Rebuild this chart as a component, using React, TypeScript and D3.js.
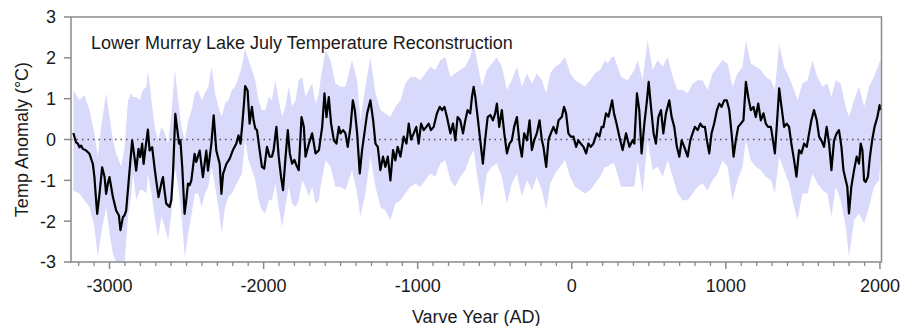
import React from "react";
import * as d3 from "d3";

const title = "Lower Murray Lake July Temperature Reconstruction";
const xTitle = "Varve Year (AD)";
const yTitle = "Temp Anomaly (°C)";

const xMajorTicks = [-3000, -2000, -1000, 0, 1000, 2000];
const yTicks = [-3, -2, -1, 0, 1, 2, 3];

const lineYears = [
  -3235, -3217, -3206, -3195, -3184, -3173, -3152, -3130, -3108, -3098, -3087, -3080, -3065, -3048, -3032, -3022, -3011, -3000,
  -2989, -2978, -2957, -2939, -2929, -2913, -2903, -2892, -2870, -2853, -2838, -2827, -2812, -2801, -2788, -2779, -2766, -2751,
  -2740, -2723, -2708, -2697, -2682, -2664, -2653, -2643, -2632, -2610, -2599, -2588, -2573, -2562, -2549, -2540, -2528, -2513,
  -2502, -2491, -2480, -2469, -2448, -2437, -2415, -2394, -2372, -2361, -2339, -2324, -2307, -2285, -2274, -2263, -2242, -2220,
  -2198, -2177, -2163, -2150, -2138, -2125, -2120, -2104, -2091, -2076, -2065, -2054, -2043, -2026, -2011, -1996, -1978, -1961,
  -1946, -1935, -1917, -1902, -1887, -1874, -1859, -1843, -1830, -1815, -1800, -1783, -1772, -1754, -1739, -1728, -1706, -1685,
  -1663, -1641, -1620, -1605, -1592, -1577, -1562, -1544, -1527, -1512, -1501, -1484, -1469, -1454, -1436, -1421, -1408, -1393,
  -1376, -1361, -1346, -1328, -1307, -1289, -1274, -1259, -1242, -1225, -1210, -1194, -1177, -1160, -1145, -1130, -1112, -1091,
  -1073, -1058, -1043, -1026, -1009, -994, -978, -961, -944, -929, -914, -896, -875, -857, -842, -827, -810, -788,
  -771, -756, -741, -724, -706, -691, -676, -659, -648, -637, -626, -611, -594, -577, -562, -546, -529, -512,
  -497, -486, -471, -454, -438, -421, -404, -389, -374, -356, -339, -324, -309, -291, -274, -259, -244, -227,
  -209, -194, -184, -166, -151, -136, -119, -101, -86, -65, -50, -37, -22, -7, 11, 28, 43, 58,
  76, 93, 108, 123, 140, 162, 179, 194, 205, 222, 238, 262, 274, 290, 309, 330, 352, 374,
  395, 406, 423, 438, 453, 471, 488, 499, 514, 531, 546, 562, 579, 594, 611, 633, 648, 665,
  682, 698, 713, 730, 752, 769, 784, 799, 817, 834, 849, 864, 877, 892, 907, 924, 942, 957,
  972, 989, 1006, 1022, 1037, 1050, 1065, 1080, 1097, 1114, 1130, 1145, 1162, 1179, 1194, 1210, 1227, 1244,
  1259, 1274, 1292, 1302, 1318, 1330, 1346, 1361, 1378, 1395, 1410, 1425, 1443, 1458, 1475, 1490, 1508, 1525,
  1540, 1555, 1572, 1590, 1605, 1620, 1637, 1654, 1670, 1685, 1702, 1719, 1734, 1750, 1763, 1778, 1788, 1799,
  1814, 1832, 1849, 1864, 1875, 1886, 1897, 1907, 1922, 1935, 1950, 1965, 1983, 1998, 2004,
];

const lineTemps = [
  0.16, -0.07, -0.1, -0.19, -0.15, -0.23, -0.27, -0.35, -0.6, -0.92, -1.49, -1.82, -1.33, -0.68, -0.92, -1.33, -1.08, -0.92,
  -1.17, -1.41, -1.74, -1.86, -2.22, -1.9, -1.86, -1.74, -0.76, -0.02, -0.43, -0.76, -0.23, -0.43, -0.1, -0.6, -0.19, 0.24,
  -0.27, -0.19, -0.68, -1.0, -1.41, -1.08, -0.92, -1.25, -1.57, -1.65, -1.49, -0.84, 0.63, 0.3, -0.1, -0.02, -0.68, -1.82,
  -1.49, -1.08, -1.12, -1.0, -0.35, -0.55, -0.27, -0.92, -0.27, -0.76, -0.1, 0.59, -0.27, -0.6, -1.33, -0.84, -0.6, -0.47,
  -0.25, -0.1, 0.1, -0.1, 0.38, 1.0, 1.31, 1.2, 0.39, 0.8, 0.47, 0.27, 0.23, -0.26, -0.67, -0.71, -0.18, -0.42,
  -0.42, -0.26, 0.31, -0.42, -0.91, -1.24, -0.5, 0.23, -0.34, -0.59, -0.5, -0.67, -0.75, 0.55, 0.31, -0.42, -0.1, 0.15,
  -0.34, -0.26, 0.31, 1.13, 0.55, 1.04, 0.39, -0.02, -0.1, 0.31, 0.15, 0.23, 0.15, -0.18, 0.31, 0.96, 0.72, 0.15,
  -0.83, -0.26, 0.15, 0.64, 0.96, 0.47, -0.1, -0.18, -0.75, -0.42, -0.67, -0.42, -1.0, -0.26, -0.51, -0.18, -0.42, 0.07,
  -0.1, 0.39, 0.0, 0.15, 0.31, -0.1, 0.39, 0.23, 0.31, 0.39, 0.23, 0.31, 0.64, 0.8, 0.72, 0.8, 0.55, 0.15,
  0.39, -0.02, 0.55, 0.47, 0.15, 0.47, 0.72, 0.64, 1.04, 1.29, 1.04, 0.55, -0.02, -0.59, 0.0, 0.55, 0.6, 0.47,
  0.64, 0.88, 0.31, 0.72, 0.15, -0.34, -0.1, -0.02, 0.31, 0.55, -0.1, -0.42, 0.15, -0.02, 0.47, -0.26, -0.02, 0.15,
  0.47, -0.02, -0.18, -0.67, 0.0, 0.15, 0.31, 0.15, 0.47, 0.55, 0.8, 0.64, 0.15, 0.07, 0.07, -0.18, -0.02, -0.1,
  -0.18, -0.34, -0.1, -0.18, -0.1, 0.15, 0.07, 0.31, 0.3, 0.64, 0.56, 0.96, 0.64, 0.4, 0.07, -0.26, 0.15, -0.18,
  -0.02, -0.1, 1.13, 0.72, -0.34, 0.39, 0.96, 1.41, 0.8, 0.15, -0.1, 0.55, 0.72, 0.15, 0.64, 0.96, 0.55, 0.31,
  -0.18, -0.42, -0.02, -0.18, -0.42, -0.02, 0.15, 0.31, 0.23, 0.39, 0.31, 0.31, -0.02, -0.34, 0.15, 0.39, 0.72, 0.88,
  0.8, 0.96, 0.96, 0.72, 0.15, -0.42, 0.0, 0.31, 0.39, 0.47, 1.41, 1.04, 0.72, 0.8, 0.55, 0.88, 0.47, 0.64,
  0.39, 0.31, 0.31, 0.07, -0.34, 0.31, 1.25, 0.8, 0.31, 0.39, 0.31, -0.1, -0.51, -0.91, -0.26, -0.34, -0.1, -0.18,
  0.15, 0.47, 0.72, 0.47, 0.07, -0.02, -0.18, 0.31, -0.1, -0.75, -0.02, 0.15, 0.23, -0.18, -0.75, -1.0, -1.16, -1.81,
  -1.16, -0.75, -0.42, -0.59, -0.1, -0.26, -1.0, -1.04, -0.91, -0.42, 0.0, 0.31, 0.55, 0.84, 0.72,
];

const bandYears = [
  -3235, -3196, -3163, -3130, -3098, -3076, -3054, -3022, -3000, -2978, -2957, -2924, -2902, -2880, -2859, -2848, -2826, -2804,
  -2783, -2761, -2750, -2728, -2707, -2685, -2663, -2641, -2620, -2598, -2576, -2554, -2533, -2511, -2489, -2467, -2446, -2424,
  -2402, -2380, -2359, -2337, -2315, -2293, -2272, -2250, -2228, -2206, -2185, -2163, -2141, -2120, -2098, -2076, -2054, -2033,
  -2011, -1989, -1967, -1946, -1924, -1902, -1880, -1859, -1837, -1815, -1793, -1772, -1750, -1728, -1707, -1685, -1663, -1641,
  -1631, -1598, -1566, -1534, -1501, -1469, -1426, -1393, -1372, -1339, -1307, -1274, -1242, -1210, -1177, -1145, -1112, -1080,
  -1048, -1015, -983, -950, -918, -886, -853, -821, -788, -756, -724, -691, -659, -637, -616, -583, -551, -518,
  -486, -454, -421, -389, -356, -324, -291, -259, -227, -194, -166, -140, -108, -76, -43, -11, 22, 54,
  86, 119, 151, 184, 216, 233, 259, 276, 320, 363, 406, 428, 460, 492, 525, 557, 590, 622,
  655, 687, 719, 752, 784, 817, 849, 881, 914, 946, 978, 1011, 1043, 1076, 1108, 1130, 1162, 1194,
  1227, 1259, 1292, 1318, 1346, 1378, 1410, 1443, 1465, 1497, 1530, 1562, 1594, 1627, 1659, 1685, 1713, 1745,
  1778, 1799, 1832, 1864, 1897, 1929, 1961, 1994, 2004,
];

const bandUpper = [
  1.21, 0.96, 1.09, 0.72, 0.15, -0.42, 0.31, 1.13, 0.56, -0.02, -0.34, -0.67, -0.18, 0.96, 1.13, 1.04, 1.04, 0.96,
  1.21, 1.29, 1.7, 0.96, 0.31, -0.02, 0.31, 0.15, -0.1, 0.64, 1.7, 0.96, 0.31, -0.02, 0.47, 0.72, 1.13, 1.21,
  0.96, 1.13, 1.29, 1.78, 1.13, 0.8, 0.56, 0.88, 0.96, 1.21, 1.29, 1.53, 1.78, 2.23, 1.94, 1.7, 1.45, 0.96,
  0.72, 0.72, 1.04, 0.96, 1.45, 0.96, 0.56, 0.8, 1.29, 0.8, 0.96, 1.45, 1.53, 1.04, 1.21, 1.37, 0.88, 1.13,
  1.45, 2.19, 1.94, 1.37, 1.29, 1.29, 1.94, 1.45, 0.47, 1.29, 2.02, 1.13, 0.72, 0.64, 0.56, 0.8, 0.96, 1.37,
  1.53, 1.53, 1.45, 1.62, 1.78, 1.7, 1.94, 2.02, 1.53, 1.62, 1.7, 1.78, 2.02, 2.35, 1.94, 1.29, 1.7, 1.86,
  2.02, 1.78, 1.21, 1.45, 1.78, 1.29, 1.62, 1.37, 1.62, 1.45, 1.13, 1.62, 1.78, 1.86, 2.02, 1.62, 1.45, 1.37,
  1.29, 1.45, 1.62, 1.7, 1.94, 1.86, 2.02, 2.02, 1.53, 1.45, 1.7, 1.94, 1.45, 2.43, 1.7, 1.94, 1.78, 2.02,
  1.53, 1.21, 1.21, 1.13, 1.37, 1.45, 1.45, 1.21, 1.62, 1.78, 1.94, 1.86, 1.29, 1.62, 1.78, 2.43, 1.86, 1.78,
  1.7, 1.53, 1.45, 1.21, 2.35, 1.78, 1.53, 1.21, 0.96, 1.37, 1.45, 1.94, 1.53, 1.29, 1.37, 1.04, 1.45, 1.37,
  0.8, 0.56, 0.96, 1.29, 0.8, 1.29, 1.53, 1.86, 1.94,
];

const bandLower = [
  -1.24, -1.32, -1.49, -1.65, -2.14, -2.87, -2.3, -1.65, -2.3, -2.79, -3.04, -3.0, -3.0, -1.89, -1.32, -0.83, -1.49, -1.24,
  -1.24, -1.32, -0.83, -1.32, -1.89, -2.38, -1.89, -2.14, -2.47, -1.81, -0.67, -1.16, -1.89, -2.87, -2.3, -1.81, -1.32, -1.32,
  -1.65, -1.32, -1.16, -0.67, -1.16, -1.65, -2.3, -1.65, -1.4, -1.32, -1.16, -1.0, -0.83, -0.02, -0.51, -0.75, -1.0, -1.49,
  -1.73, -1.81, -1.49, -1.49, -1.08, -1.65, -2.14, -1.65, -1.16, -1.57, -1.65, -1.49, -1.0, -1.16, -1.4, -1.16, -1.57, -1.49,
  -1.16, -0.51, -0.67, -1.16, -1.16, -1.24, -0.75, -1.32, -1.89, -1.32, -0.42, -1.16, -1.65, -1.73, -1.98, -1.57, -1.49, -1.32,
  -1.16, -1.08, -1.16, -1.0, -0.83, -0.91, -0.59, -0.51, -1.0, -1.16, -0.91, -0.75, -0.42, -0.26, -0.83, -1.65, -0.83, -0.67,
  -0.59, -0.91, -1.57, -1.08, -0.83, -1.4, -1.0, -1.24, -0.91, -1.24, -1.73, -1.08, -0.83, -0.67, -0.51, -0.91, -1.16, -1.24,
  -1.32, -1.24, -1.08, -0.91, -0.67, -0.67, -0.59, -0.59, -1.16, -1.16, -1.16, -0.51, -1.32, -0.02, -0.75, -0.67, -0.91, -0.51,
  -0.91, -1.32, -1.49, -1.49, -1.32, -1.16, -1.08, -1.24, -1.0, -0.83, -0.51, -0.67, -1.49, -1.0, -0.67, -0.02, -0.51, -0.67,
  -0.75, -0.91, -1.0, -1.32, -0.42, -0.75, -1.08, -1.65, -1.98, -1.32, -1.32, -0.83, -1.08, -1.24, -1.32, -1.89, -1.16, -1.49,
  -2.14, -2.87, -1.98, -1.81, -2.06, -1.65, -1.16, -1.0, -0.5,
];

const W = 903;
const H = 326;
const L = 71;
const R = 881.5;
const T = 17;
const B = 262;

const axisColor = "#8a8a8a";
const textColor = "#1a1a1a";
const font = "'Liberation Sans', Arial, sans-serif";

export default function App() {
  const x = d3.scaleLinear().domain([-3250, 2010]).range([L, R]);
  const y = d3.scaleLinear().domain([-3, 3]).range([B, T]);

  const band = bandYears.map((yr, i) => ({ yr, hi: bandUpper[i], lo: bandLower[i] }));
  const pts = lineYears.map((yr, i) => ({ yr, v: lineTemps[i] }));

  const areaGen = d3
    .area<{ yr: number; hi: number; lo: number }>()
    .x((d) => x(d.yr))
    .y0((d) => y(Math.max(-3, d.lo)))
    .y1((d) => y(d.hi));
  const lineGen = d3
    .line<{ yr: number; v: number }>()
    .x((d) => x(d.yr))
    .y((d) => y(d.v));

  const minorTicks = d3.range(-3200, 2001, 100).filter((t) => t % 1000 !== 0);

  return (
    <svg
      width={W}
      height={H}
      style={{ position: "absolute", left: 0, top: 0, background: "#fff" }}
      fontFamily={font}
    >
      <defs>
        <clipPath id="plotclip">
          <rect x={L} y={T} width={R - L} height={B - T} />
        </clipPath>
      </defs>
      <g clipPath="url(#plotclip)">
        <path d={areaGen(band) || ""} fill="#d9d9fb" stroke="none" />
        <line
          x1={L}
          x2={R}
          y1={y(0)}
          y2={y(0)}
          stroke="#555"
          strokeWidth={1.3}
          strokeDasharray="1.5,4"
        />
        <path
          d={lineGen(pts) || ""}
          fill="none"
          stroke="#000"
          strokeWidth={2.2}
          strokeLinejoin="round"
        />
      </g>

      <rect x={L} y={T} width={R - L} height={B - T} fill="none" stroke={axisColor} strokeWidth={1.5} />

      {minorTicks.map((t) => (
        <line key={"m" + t} x1={x(t)} x2={x(t)} y1={B} y2={B + 4} stroke={axisColor} strokeWidth={1.3} />
      ))}
      {xMajorTicks.map((t) => (
        <g key={"x" + t}>
          <line x1={x(t)} x2={x(t)} y1={B} y2={B + 7} stroke={axisColor} strokeWidth={1.5} />
          <text x={x(t)} y={292} textAnchor="middle" fontSize={18} fill={textColor}>
            {t}
          </text>
        </g>
      ))}

      {yTicks.map((t) => (
        <g key={"y" + t}>
          <line x1={L - 7} x2={L} y1={y(t)} y2={y(t)} stroke={axisColor} strokeWidth={1.5} />
          <text x={56} y={y(t)} dy="0.36em" textAnchor="end" fontSize={18} fill={textColor}>
            {t}
          </text>
        </g>
      ))}

      <text x={91} y={49} fontSize={18} fill={textColor}>
        {title}
      </text>
      <text x={(L + R) / 2} y={323} textAnchor="middle" fontSize={18} fill={textColor}>
        {xTitle}
      </text>
      <text
        transform={`translate(28,${(T + B) / 2}) rotate(-90)`}
        textAnchor="middle"
        fontSize={18}
        fill={textColor}
      >
        {yTitle}
      </text>
    </svg>
  );
}
